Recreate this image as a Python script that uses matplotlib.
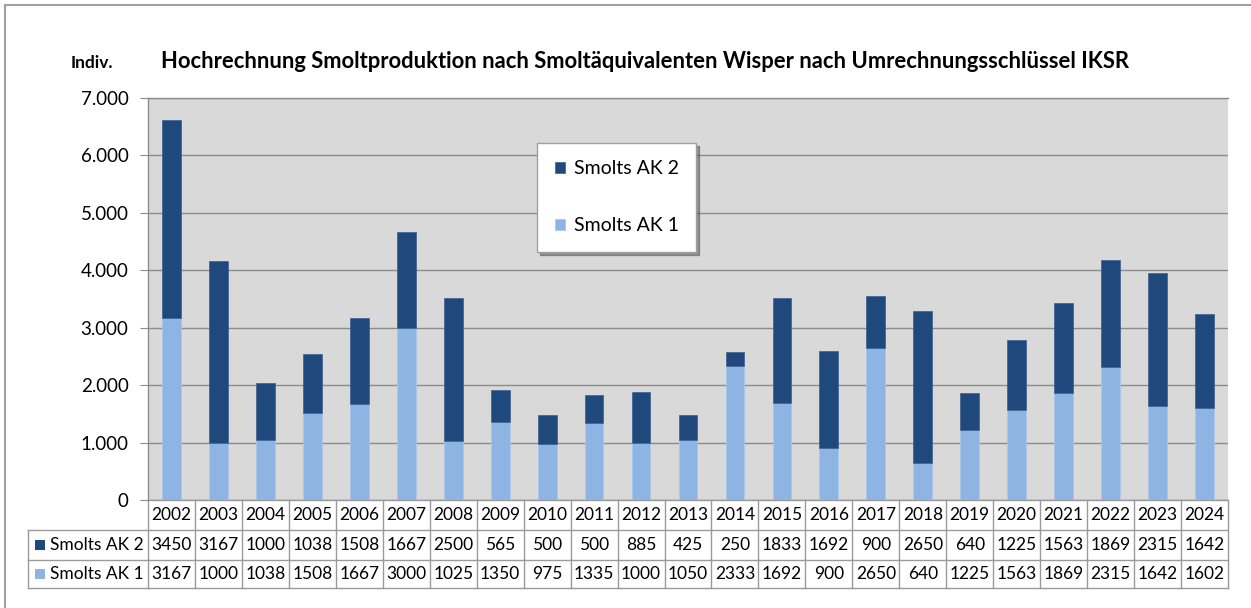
import matplotlib
matplotlib.use("Agg")
import matplotlib.pyplot as plt
from matplotlib.lines import Line2D
from matplotlib.patches import Rectangle
import matplotlib.transforms as mtransforms

years = ["2002", "2003", "2004", "2005", "2006", "2007", "2008", "2009", "2010", "2011",
         "2012", "2013", "2014", "2015", "2016", "2017", "2018", "2019", "2020", "2021",
         "2022", "2023", "2024"]
ak1 = [3167, 1000, 1038, 1508, 1667, 3000, 1025, 1350, 975, 1335,
       1000, 1050, 2333, 1692, 900, 2650, 640, 1225, 1563, 1869,
       2315, 1642, 1602]
ak2 = [3450, 3167, 1000, 1038, 1508, 1667, 2500, 565, 500, 500,
       885, 425, 250, 1833, 1692, 900, 2650, 640, 1225, 1563,
       1869, 2315, 1642]
yticks = [0, 1000, 2000, 3000, 4000, 5000, 6000, 7000]
ytick_labels = ["0", "1.000", "2.000", "3.000", "4.000", "5.000", "6.000", "7.000"]
title = "Hochrechnung Smoltproduktion nach Smoltäquivalenten Wisper nach Umrechnungsschlüssel IKSR"
ylabel = "Indiv."
name_ak2 = "Smolts AK 2"
name_ak1 = "Smolts AK 1"

plt.rcParams['font.family'] = ['Lato', 'DejaVu Sans']

C_DARK = "#1f497d"
C_LIGHT = "#8db4e2"
C_BG = "#d9d9d9"
C_GRID = "#8c8c8c"
C_TBL = "#9a9a9a"

W, H = 1251, 608
fig = plt.figure(figsize=(W / 100, H / 100), dpi=100)
L, R, T, B = 148, 1228, 98, 500
ax = fig.add_axes([L / W, 1 - B / H, (R - L) / W, (B - T) / H])
ax.set_facecolor(C_BG)

x = list(range(len(years)))
b1 = ax.bar(x, ak1, width=0.4, color=C_LIGHT, edgecolor="#a9c6ea", linewidth=0.5, zorder=3, label=name_ak1)
b2 = ax.bar(x, ak2, width=0.4, bottom=ak1, color=C_DARK, edgecolor="#3c5f8f", linewidth=0.5, zorder=3, label=name_ak2)

ax.set_xlim(-0.5, len(years) - 0.5)
ax.set_ylim(0, 7000)
ax.set_yticks(yticks)
ax.set_yticklabels(ytick_labels, fontsize=13.5)
ax.tick_params(axis='y', length=6, color=C_GRID, pad=8)
ax.set_xticks([])
ax.grid(axis='y', color=C_GRID, linewidth=1, zorder=1)
for s in ['right', 'bottom']:
    ax.spines[s].set_visible(False)
ax.spines['top'].set_color(C_GRID)
ax.spines['left'].set_color(C_GRID)
ax.spines['top'].set_linewidth(1)
ax.spines['left'].set_linewidth(1)

# title and unit label
fig.text(645 / W, 1 - 62 / H, title, ha='center', va='center', fontsize=15.8, fontweight='bold')
fig.text(92 / W, 1 - 63 / H, ylabel, ha='center', va='center', fontsize=12.5, fontweight='bold')

# legend
leg = ax.legend(handles=[b2, b1], labels=[name_ak2, name_ak1], loc='upper left',
                bbox_to_anchor=((537 - L) / (R - L), (B - 143) / (B - T)),
                fontsize=14, frameon=True, fancybox=False, edgecolor="#a0a0a0",
                framealpha=1, labelspacing=2.05, handlelength=0.55, handleheight=0.55,
                borderpad=0.9, handletextpad=0.45, borderaxespad=0, shadow=True)
leg.get_frame().set_linewidth(1)

# data table
trans = mtransforms.blended_transform_factory(ax.transData, ax.transAxes)
ftrans = fig.transFigure
def ay(py):
    return (B - py) / (B - T)

rows_y = [B, 530, 560, 588]
n = len(years)
FS_T = 12.5
ax.add_line(Line2D([-0.5, n - 0.5], [ay(500), ay(500)], transform=trans, color=C_TBL, lw=1, clip_on=False))
for py in rows_y[1:]:
    ax.add_line(Line2D([-0.5, n - 0.5], [ay(py), ay(py)], transform=trans, color=C_TBL, lw=1, clip_on=False))
    fig.add_artist(Line2D([28 / W, L / W], [1 - py / H, 1 - py / H], transform=ftrans, color=C_TBL, lw=1))
for i in range(n + 1):
    ax.add_line(Line2D([i - 0.5, i - 0.5], [ay(500), ay(588)], transform=trans, color=C_TBL, lw=1, clip_on=False))
fig.add_artist(Line2D([28 / W, 28 / W], [1 - 530 / H, 1 - 588 / H], transform=ftrans, color=C_TBL, lw=1))

for i, yr in enumerate(years):
    ax.text(i, ay(515), yr, transform=trans, ha='center', va='center', fontsize=FS_T, clip_on=False)
    ax.text(i, ay(545), str(ak2[i]), transform=trans, ha='center', va='center', fontsize=FS_T, clip_on=False)
    ax.text(i, ay(574), str(ak1[i]), transform=trans, ha='center', va='center', fontsize=FS_T, clip_on=False)

for py, name, col in [(545, name_ak2, C_DARK), (574, name_ak1, C_LIGHT)]:
    fig.add_artist(Rectangle((35 / W, 1 - (py + 5) / H), 10 / W, 10 / H, transform=ftrans,
                             facecolor=col, edgecolor='none'))
    fig.text(50 / W, 1 - py / H, name, ha='left', va='center', fontsize=FS_T)

# outer border (top and left)
fig.add_artist(Line2D([5 / W, 1], [1 - 5 / H, 1 - 5 / H], transform=ftrans, color="#a0a0a0", lw=1.5))
fig.add_artist(Line2D([5 / W, 5 / W], [1 - 5 / H, 0], transform=ftrans, color="#a0a0a0", lw=1.5))

fig.savefig("out.png", dpi=100)
